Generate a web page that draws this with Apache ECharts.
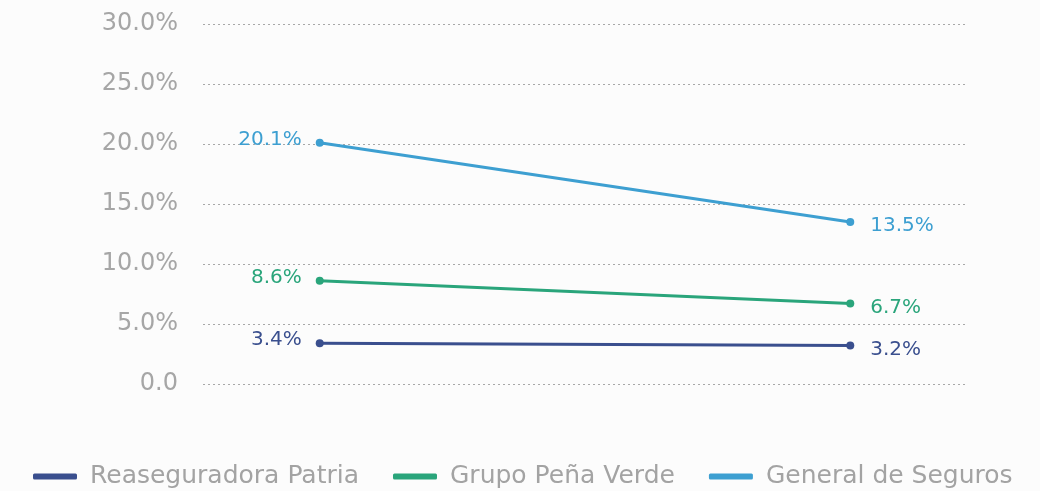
<!DOCTYPE html>
<html>
<head>
<meta charset="utf-8">
<script src="https://cdn.jsdelivr.net/npm/echarts@6/dist/echarts.min.js"></script>
<style>
  html, body { margin: 0; padding: 0; background: #fcfcfc; }
  #chart { width: 1040px; height: 491px; }
</style>
</head>
<body>
<div id="chart"></div>
<script>
// 两个时期（图中无标签）
const periods = [0, 1]
const seriesNames = ['Reaseguradora Patria', 'Grupo Peña Verde', 'General de Seguros']
const patria = [3.4, 3.2]
const penaVerde = [8.6, 6.7]
const generalSeguros = [20.1, 13.5]
const colors = ['#3a4f8e', '#2aa57b', '#3d9fd1']
const fontName = 'DejaVu Sans'

const chart = echarts.init(document.getElementById('chart'))

// 生成折线系列：第一个点标签在左，第二个点标签在右
const makeSeries = (name, values, color) => ({
  name,
  type: 'line',
  data: periods.map((p, i) => i === 1
    ? { value: [p, values[i]], label: { position: 'right', distance: 16, offset: [0, 4] } }
    : { value: [p, values[i]] }),
  symbol: 'circle',
  symbolSize: 8,
  lineStyle: { color, width: 3 },
  itemStyle: { color },
  label: {
    show: true,
    color,
    fontSize: 20,
    fontFamily: fontName,
    formatter: p => p.value[1].toFixed(1) + '%',
    position: 'left',
    distance: 14,
    offset: [0, -3]
  }
})

const series = [
  makeSeries(seriesNames[0], patria, colors[0]),
  makeSeries(seriesNames[1], penaVerde, colors[1]),
  makeSeries(seriesNames[2], generalSeguros, colors[2])
]

chart.setOption({
  backgroundColor: '#fcfcfc',
  animation: false,
  grid: { left: 203, right: 73, top: 24, bottom: 107 },
  xAxis: {
    type: 'value',
    min: -0.22,
    max: 1.22,
    show: false
  },
  yAxis: {
    type: 'value',
    min: 0,
    max: 30,
    interval: 5,
    axisLine: { show: false },
    axisTick: { show: false },
    axisLabel: {
      color: '#a6a6a6',
      fontSize: 24,
      fontFamily: fontName,
      margin: 25,
      formatter: v => v === 0 ? '0.0' : v.toFixed(1) + '%'
    },
    splitLine: { lineStyle: { color: '#a8a8a8', type: [2, 3], width: 1 } }
  },
  legend: {
    top: 459,
    left: 28,
    itemWidth: 44,
    itemHeight: 6,
    itemGap: 34,
    icon: 'roundRect',
    textStyle: { color: '#a3a3a3', fontSize: 25, fontFamily: fontName, padding: [0, 0, 0, 8] },
    data: seriesNames.map((n, i) => ({ name: n, itemStyle: { color: colors[i] } }))
  },
  series
})
</script>
</body>
</html>
